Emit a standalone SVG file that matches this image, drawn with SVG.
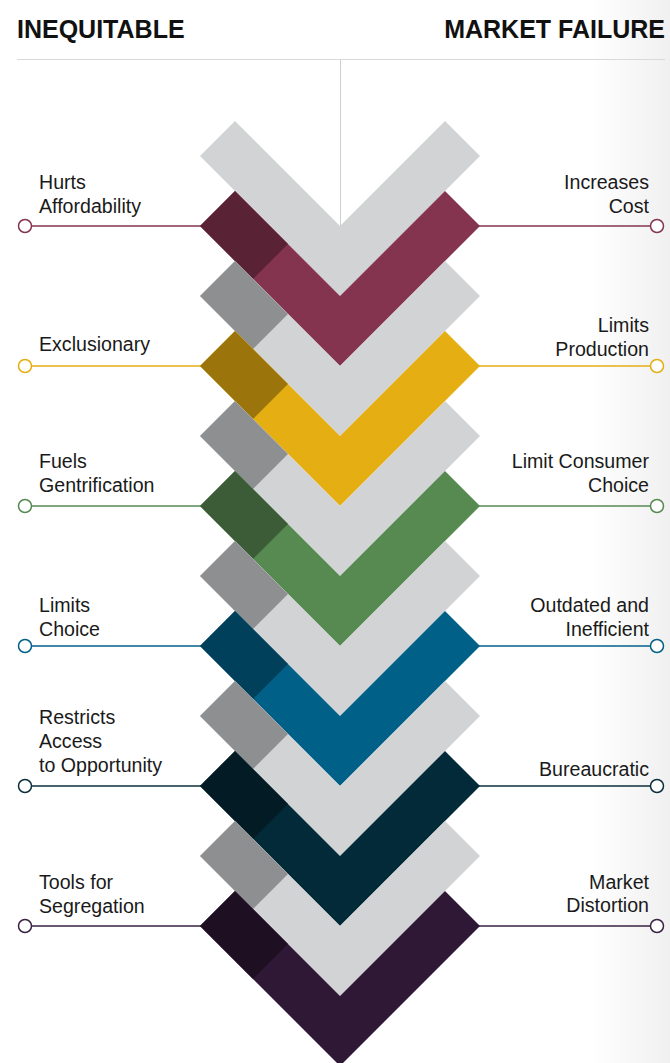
<svg xmlns="http://www.w3.org/2000/svg" xmlns:xlink="http://www.w3.org/1999/xlink" width="670" height="1063" viewBox="0 0 670 1063">
<defs>
<linearGradient id="edge" x1="0" y1="0" x2="1" y2="0">
<stop offset="0" stop-color="#ffffff"/>
<stop offset="1" stop-color="#f0f0f0"/>
</linearGradient>
<path id="chev" d="M340 296 L200 156 L235 121 L340 226 L445 121 L480 156 Z"/>
<path id="tip" d="M200 156 L235 121 L288 174 L253 209 Z"/>
<style>
.lbl{font-family:"Liberation Sans",Arial,sans-serif;font-size:19.6px;fill:#1a1a1a}
.r{text-anchor:end}
.hd{font-family:"Liberation Sans",Arial,sans-serif;font-size:25px;font-weight:bold;fill:#111}
.ln{stroke-width:1.5;fill:none}
.dot{stroke-width:1.5;fill:#fff}
</style>
</defs>
<rect x="0" y="0" width="670" height="1063" fill="#fff"/>
<rect x="590" y="0" width="80" height="1063" fill="url(#edge)"/>
<g id="header">
<text class="hd" x="17" y="38">INEQUITABLE</text>
<text class="hd r" x="665" y="38">MARKET FAILURE</text>
<line x1="17" y1="59.5" x2="665" y2="59.5" stroke="#d9d9d9" stroke-width="1"/>
<line x1="340.5" y1="60" x2="340.5" y2="226" stroke="#cfcfcf" stroke-width="1"/>
</g>
<g id="connectors">
<g stroke="#84344e"><line class="ln" x1="31" y1="226" x2="201" y2="226"/><line class="ln" x1="479" y1="226" x2="651" y2="226"/><circle class="dot" cx="25" cy="226" r="6.5"/><circle class="dot" cx="657" cy="226" r="6.5"/></g>
<g stroke="#e5ae12"><line class="ln" x1="31" y1="366" x2="201" y2="366"/><line class="ln" x1="479" y1="366" x2="651" y2="366"/><circle class="dot" cx="25" cy="366" r="6.5"/><circle class="dot" cx="657" cy="366" r="6.5"/></g>
<g stroke="#578a51"><line class="ln" x1="31" y1="506" x2="201" y2="506"/><line class="ln" x1="479" y1="506" x2="651" y2="506"/><circle class="dot" cx="25" cy="506" r="6.5"/><circle class="dot" cx="657" cy="506" r="6.5"/></g>
<g stroke="#006088"><line class="ln" x1="31" y1="646" x2="201" y2="646"/><line class="ln" x1="479" y1="646" x2="651" y2="646"/><circle class="dot" cx="25" cy="646" r="6.5"/><circle class="dot" cx="657" cy="646" r="6.5"/></g>
<g stroke="#0c2f3d"><line class="ln" x1="31" y1="786" x2="201" y2="786"/><line class="ln" x1="479" y1="786" x2="651" y2="786"/><circle class="dot" cx="25" cy="786" r="6.5"/><circle class="dot" cx="657" cy="786" r="6.5"/></g>
<g stroke="#3a2242"><line class="ln" x1="31" y1="926" x2="201" y2="926"/><line class="ln" x1="479" y1="926" x2="651" y2="926"/><circle class="dot" cx="25" cy="926" r="6.5"/><circle class="dot" cx="657" cy="926" r="6.5"/></g>
</g>
<g id="chevrons">
<g id="gray0"><use xlink:href="#chev" fill="#d1d3d4"/></g>
<g id="maroon" transform="translate(0,70)"><use xlink:href="#chev" fill="#84344e"/><use xlink:href="#tip" fill="#5a2335"/></g>
<g id="gray1" transform="translate(0,140)"><use xlink:href="#chev" fill="#d1d3d4"/><use xlink:href="#tip" fill="#8d8f91"/></g>
<g id="yellow" transform="translate(0,210)"><use xlink:href="#chev" fill="#e5ae12"/><use xlink:href="#tip" fill="#9b740c"/></g>
<g id="gray2" transform="translate(0,280)"><use xlink:href="#chev" fill="#d1d3d4"/><use xlink:href="#tip" fill="#8d8f91"/></g>
<g id="green" transform="translate(0,350)"><use xlink:href="#chev" fill="#578a51"/><use xlink:href="#tip" fill="#3b5c36"/></g>
<g id="gray3" transform="translate(0,420)"><use xlink:href="#chev" fill="#d1d3d4"/><use xlink:href="#tip" fill="#8d8f91"/></g>
<g id="blue" transform="translate(0,490)"><use xlink:href="#chev" fill="#006088"/><use xlink:href="#tip" fill="#00405b"/></g>
<g id="gray4" transform="translate(0,560)"><use xlink:href="#chev" fill="#d1d3d4"/><use xlink:href="#tip" fill="#8d8f91"/></g>
<g id="teal" transform="translate(0,630)"><use xlink:href="#chev" fill="#022a38"/><use xlink:href="#tip" fill="#021b24"/></g>
<g id="gray5" transform="translate(0,700)"><use xlink:href="#chev" fill="#d1d3d4"/><use xlink:href="#tip" fill="#8d8f91"/></g>
<g id="purple" transform="translate(0,770)"><use xlink:href="#chev" fill="#2f1836"/><use xlink:href="#tip" fill="#1f0f23"/></g>
</g>
<g id="labels-left">
<g id="l1"><text class="lbl" x="39" y="189">Hurts</text><text class="lbl" x="39" y="213">Affordability</text></g>
<g id="l2"><text class="lbl" x="39" y="351">Exclusionary</text></g>
<g id="l3"><text class="lbl" x="39" y="468">Fuels</text><text class="lbl" x="39" y="492">Gentrification</text></g>
<g id="l4"><text class="lbl" x="39" y="612">Limits</text><text class="lbl" x="39" y="636">Choice</text></g>
<g id="l5"><text class="lbl" x="39" y="724">Restricts</text><text class="lbl" x="39" y="748">Access</text><text class="lbl" x="39" y="772">to Opportunity</text></g>
<g id="l6"><text class="lbl" x="39" y="889">Tools for</text><text class="lbl" x="39" y="913">Segregation</text></g>
</g>
<g id="labels-right">
<g id="r1"><text class="lbl r" x="649" y="189">Increases</text><text class="lbl r" x="649" y="213">Cost</text></g>
<g id="r2"><text class="lbl r" x="649" y="332">Limits</text><text class="lbl r" x="649" y="356">Production</text></g>
<g id="r3"><text class="lbl r" x="649" y="468">Limit Consumer</text><text class="lbl r" x="649" y="492">Choice</text></g>
<g id="r4"><text class="lbl r" x="649" y="612">Outdated and</text><text class="lbl r" x="649" y="636">Inefficient</text></g>
<g id="r5"><text class="lbl r" x="649" y="776">Bureaucratic</text></g>
<g id="r6"><text class="lbl r" x="649" y="889">Market</text><text class="lbl r" x="649" y="912">Distortion</text></g>
</g>
</svg>
